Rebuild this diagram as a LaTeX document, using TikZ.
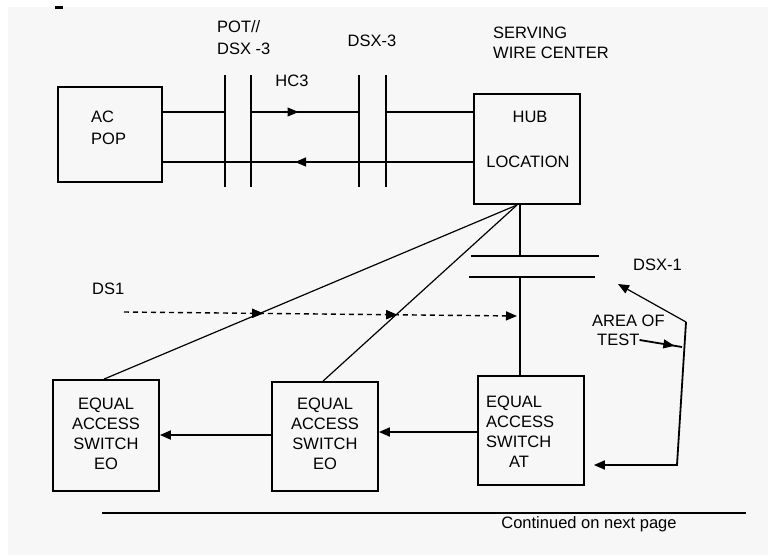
\documentclass[tikz,border=0pt]{standalone}
\usepackage{fontspec}
\setmainfont{Liberation Sans}
\usetikzlibrary{arrows.meta,decorations.markings}
\definecolor{bggray}{HTML}{F7F7F7}
\begin{document}
\begin{tikzpicture}[x=1pt,y=-1pt,
  lbl/.style={font=\fontsize{16.5}{20}\selectfont, inner sep=0pt, align=left},
  clbl/.style={font=\fontsize{16.5}{20}\selectfont, inner sep=0pt, align=center},
  boxnode/.style={draw, line width=1.8pt, rectangle, inner sep=0pt},
  thick line/.style={line width=1.8pt},
  thin line/.style={line width=1.2pt},
  tipstyle/.style={-{Triangle[length=11pt,width=9pt]}},
  midtip/.style={postaction={decorate}, decoration={markings,
     mark=at position #1 with {\arrow[line width=1pt]{Triangle[length=11pt,width=9pt]}}}},
]
\useasboundingbox (0,0) rectangle (768,555);
\fill[bggray] (8,7) rectangle (768,555);
\fill (55,6) rectangle (63,9);

% boxes
\node[boxnode, minimum width=104pt, minimum height=95pt] (acpop) at (110,134.5) {};
\node[boxnode, minimum width=106pt, minimum height=110pt] (hub) at (527,149) {};
\node[boxnode, minimum width=106pt, minimum height=111pt] (eo1) at (106,435.5) {};
\node[boxnode, minimum width=106pt, minimum height=109pt] (eo2) at (325,436.5) {};
\node[boxnode, minimum width=106pt, minimum height=109pt] (at) at (531,430.5) {};

% texts
\node[lbl, anchor=west] (acpoptxt) at (91,128) {AC\\[2pt]POP};
\node[lbl, anchor=west] (pottxt) at (217,38) {POT//\\[2pt]DSX -3};
\node[lbl] (hc3txt) at (292,81) {HC3};
\node[lbl] (dsx3txt) at (372,41) {DSX-3};
\node[lbl, anchor=west] (servtxt) at (493,43) {SERVING\\WIRE CENTER};
\node[lbl] (hubtxt) at (530,117) {HUB};
\node[lbl] (loctxt) at (528,162) {LOCATION};
\node[lbl, anchor=west] (dsx1txt) at (633,265) {DSX-1};
\node[lbl, anchor=west] (areatxt) at (592,321) {AREA OF};
\node[lbl, anchor=west] (testtxt) at (597,340) {TEST};
\node[lbl, anchor=west] (ds1txt) at (92,289) {DS1};
\node[clbl] (eo1txt) at (106,434) {EQUAL\\ACCESS\\SWITCH\\EO};
\node[clbl] (eo2txt) at (325,434) {EQUAL\\ACCESS\\SWITCH\\EO};
\node[lbl, anchor=west] (attxt) at (486,432) {EQUAL\\ACCESS\\SWITCH\\\hspace*{23pt}AT};
\node[clbl] (conttxt) at (589,524) {Continued on next page};

% bar coordinates
\coordinate (b1t) at (225,75); \coordinate (b1b) at (225,187);
\coordinate (b2t) at (251,75); \coordinate (b2b) at (251,187);
\coordinate (b3t) at (359,75); \coordinate (b3b) at (359,187);
\coordinate (b4t) at (386,75); \coordinate (b4b) at (386,187);
\coordinate (up) at (0,112);
\coordinate (lo) at (0,162);
\draw[thick line] (b1t) -- (b1b);
\draw[thick line] (b2t) -- (b2b);
\draw[thick line] (b3t) -- (b3b);
\draw[thick line] (b4t) -- (b4b);

% upper line (broken at the bars)
\draw[thick line] (acpop.east |- up) -- (b1t |- up);
\draw[thick line, midtip=0.44] (b2t |- up) -- (b3t |- up);
\draw[thick line] (b4t |- up) -- (hub.west |- up);
% lower line
\draw[thick line, midtip=0.574] (hub.west |- lo) -- (acpop.east |- lo);

% DSX-1
\coordinate (d1l) at (471,256); \coordinate (d1r) at (599,256);
\coordinate (d2l) at (469,277); \coordinate (d2r) at (595,277);
\draw[thick line] (d1l) -- (d1r);
\draw[thick line] (d2l) -- (d2r);
\coordinate (hv) at (520,0);
\draw[thick line] (hub.south -| hv) -- (hv |- d1l);
\draw[thick line] (hv |- d2l) -- (at.north -| hv);

% diagonals
\coordinate (hubfoot) at (517,205);
\draw[thin line] (hubfoot) -- ([xshift=-2pt]eo1.north);
\draw[thin line] (hubfoot) -- ([xshift=-2pt]eo2.north);

% DS1 dashed
\coordinate (ds1start) at (124,312);
\coordinate (ds1end) at (517,316);
\draw[line width=1.4pt, dash pattern=on 5pt off 4pt, tipstyle,
      midtip=0.354, midtip=0.695] (ds1start) -- (ds1end);

% box to box arrows
\draw[thick line, tipstyle] (at.west |- 0,432) -- (eo2.east |- 0,432);
\draw[thick line, tipstyle] (eo2.west |- 0,435) -- (eo1.east |- 0,435);

% area of test
\coordinate (ktop) at (686,322);
\coordinate (kbot) at (677,465);
\coordinate (dsxtipt) at (618,284);
\draw[thin line, tipstyle] (ktop) -- (dsxtipt);
\draw[thick line, tipstyle, shorten >=9pt] (ktop) -- (kbot) -- (at.east |- kbot);
\coordinate (testend) at (682,347);
\draw[thick line, midtip=0.82] (testtxt.east) -- (testend);

% bottom line
\coordinate (botl) at (102,513); \coordinate (botr) at (746,513);
\draw[thick line] (botl) -- (botr);
\end{tikzpicture}
\end{document}
